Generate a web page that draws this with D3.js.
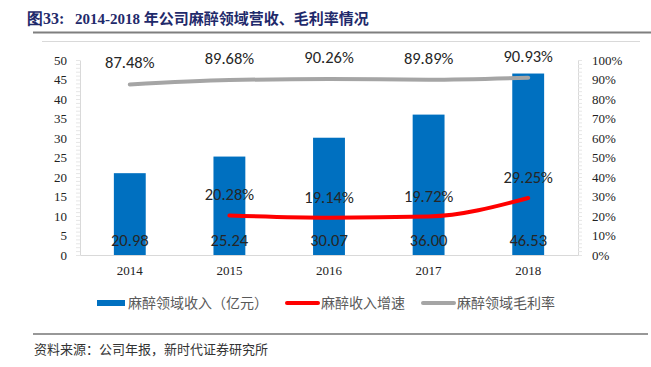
<!DOCTYPE html>
<html>
<head>
<meta charset="utf-8">
<script src="https://cdn.jsdelivr.net/npm/d3@7/dist/d3.min.js"></script>
<style>
  body { margin: 0; background: #fff; }
  svg { display: block; }
</style>
</head>
<body>
<svg id="chart" width="651" height="367"></svg>
<script>
const years = ["2014", "2015", "2016", "2017", "2018"];
const revenue = [20.98, 25.24, 30.07, 36.00, 46.53];
const growth = [null, 20.28, 19.14, 19.72, 29.25];
const margin = [87.48, 89.68, 90.26, 89.89, 90.93];
const leftTicks = [0, 5, 10, 15, 20, 25, 30, 35, 40, 45, 50];
const rightTicks = [0, 10, 20, 30, 40, 50, 60, 70, 80, 90, 100];
const legendNames = ["麻醉领域收入（亿元）", "麻醉收入增速", "麻醉领域毛利率"];

const svg = d3.select("#chart");
const plot = {left: 80, right: 578, top: 60, bottom: 255};
const labelFont = "Calibri, Carlito, 'Liberation Sans', 'Open Sans', sans-serif";
const tickFont = "'Liberation Serif', 'DejaVu Serif', serif";
const cjkFont = "'Noto Sans CJK SC', sans-serif";

// title
svg.append("text")
  .attr("x", 27).attr("y", 24)
  .attr("font-family", tickFont).attr("font-weight", "bold")
  .attr("font-size", 16).attr("fill", "#1f2a6b")
  .text("图33:");
svg.append("text")
  .attr("x", 75).attr("y", 24)
  .attr("font-family", tickFont + ", 'Noto Sans CJK SC'").attr("font-weight", "bold")
  .attr("font-size", 15).attr("fill", "#1f2a6b")
  .text("2014-2018 年公司麻醉领域营收、毛利率情况");
svg.append("line")
  .attr("x1", 33).attr("x2", 651).attr("y1", 32.5).attr("y2", 32.5)
  .attr("stroke", "#7f7f7f").attr("stroke-width", 2);
svg.append("line")
  .attr("x1", 42).attr("x2", 640).attr("y1", 41.5).attr("y2", 41.5)
  .attr("stroke", "#d9d9d9").attr("stroke-width", 1);

const x = d3.scaleBand().domain(years).range([plot.left, plot.right]).paddingInner(0.68).paddingOuter(0.34);
const y = d3.scaleLinear().domain([0, 50]).range([plot.bottom, plot.top]);
const y2 = d3.scaleLinear().domain([0, 100]).range([plot.bottom, plot.top]);
const cx = d => x(d) + x.bandwidth() / 2;

// axes
const leftAxis = svg.append("g")
  .attr("transform", `translate(${plot.left},0)`)
  .call(d3.axisLeft(y).tickValues(leftTicks).tickSize(0).tickPadding(13));
const rightAxis = svg.append("g")
  .attr("transform", `translate(${plot.right},0)`)
  .call(d3.axisRight(y2).tickValues(rightTicks).tickSize(0).tickPadding(14).tickFormat(d => d + "%"));
[leftAxis, rightAxis].forEach(g => {
  g.select(".domain").attr("stroke", "#d9d9d9");
  g.selectAll("text").attr("font-family", tickFont).attr("font-size", 13).attr("fill", "#222");
});
// minor ticks on the side axes
const minor = d3.range(0, 50.01, 1);
svg.append("g").selectAll("line").data(minor).join("line")
  .attr("x1", plot.left - 4).attr("x2", plot.left)
  .attr("y1", d => y(d) + 0.5).attr("y2", d => y(d) + 0.5)
  .attr("stroke", "#e6e6e6");
svg.append("g").selectAll("line").data(minor).join("line")
  .attr("x1", plot.right).attr("x2", plot.right + 4)
  .attr("y1", d => y(d) + 0.5).attr("y2", d => y(d) + 0.5)
  .attr("stroke", "#e6e6e6");

// bars
svg.append("g").selectAll("rect").data(years).join("rect")
  .attr("x", d => x(d)).attr("width", x.bandwidth())
  .attr("y", (d, i) => y(revenue[i]))
  .attr("height", (d, i) => y(0) - y(revenue[i]))
  .attr("fill", "#0070c0");

// x axis
const bottomAxis = svg.append("g")
  .attr("transform", `translate(0,${plot.bottom})`)
  .call(d3.axisBottom(x).tickSize(0).tickPadding(11));
bottomAxis.select(".domain").attr("stroke", "#d9d9d9");
bottomAxis.selectAll("text").attr("font-family", tickFont).attr("font-size", 13).attr("fill", "#222");

// gray margin line
svg.append("path")
  .datum(years)
  .attr("d", d3.line().x(d => cx(d)).y((d, i) => y2(margin[i])).curve(d3.curveMonotoneX))
  .attr("fill", "none").attr("stroke", "#a5a5a5").attr("stroke-width", 4).attr("stroke-linecap", "round");

// red growth line
const gData = years.map((d, i) => ({year: d, v: growth[i]})).filter(d => d.v !== null);
svg.append("path")
  .datum(gData)
  .attr("d", d3.line().x(d => cx(d.year)).y(d => y2(d.v)).curve(d3.curveMonotoneX))
  .attr("fill", "none").attr("stroke", "#ff0000").attr("stroke-width", 4).attr("stroke-linecap", "round");

// labels
const labels = svg.append("g")
  .attr("font-family", labelFont).attr("font-size", 16.5).attr("fill", "#262626").attr("text-anchor", "middle");
labels.selectAll(".rev").data(years).join("text")
  .attr("x", d => cx(d)).attr("y", 246)
  .text((d, i) => revenue[i].toFixed(2));
labels.selectAll(".mg").data(years).join("text")
  .attr("x", d => cx(d)).attr("y", (d, i) => y2(margin[i]) - 16)
  .text((d, i) => margin[i].toFixed(2) + "%");
labels.selectAll(".gr").data(gData).join("text")
  .attr("x", d => cx(d.year)).attr("y", d => y2(d.v) - 15)
  .text(d => d.v.toFixed(2) + "%");

// legend
const legendX = [97, 287, 423];
const legendColors = ["#0070c0", "#ff0000", "#a5a5a5"];
const legend = svg.append("g");
legendNames.forEach((name, i) => {
  if (i === 0) {
    legend.append("rect").attr("x", legendX[i]).attr("y", 300).attr("width", 28).attr("height", 6).attr("fill", legendColors[i]);
  } else {
    legend.append("line").attr("x1", legendX[i]).attr("x2", legendX[i] + 31).attr("y1", 303).attr("y2", 303)
      .attr("stroke", legendColors[i]).attr("stroke-width", 4).attr("stroke-linecap", "round");
  }
  legend.append("text")
    .attr("x", legendX[i] + (i === 0 ? 31 : 34)).attr("y", 308)
    .attr("font-family", cjkFont).attr("font-size", 14).attr("fill", "#595959")
    .text(name);
});

// source
svg.append("line")
  .attr("x1", 33).attr("x2", 648).attr("y1", 334).attr("y2", 334)
  .attr("stroke", "#333").attr("stroke-width", 1.2);
svg.append("text")
  .attr("x", 34).attr("y", 354)
  .attr("font-family", cjkFont).attr("font-size", 13).attr("fill", "#333")
  .text("资料来源：公司年报，新时代证券研究所");
</script>
</body>
</html>
